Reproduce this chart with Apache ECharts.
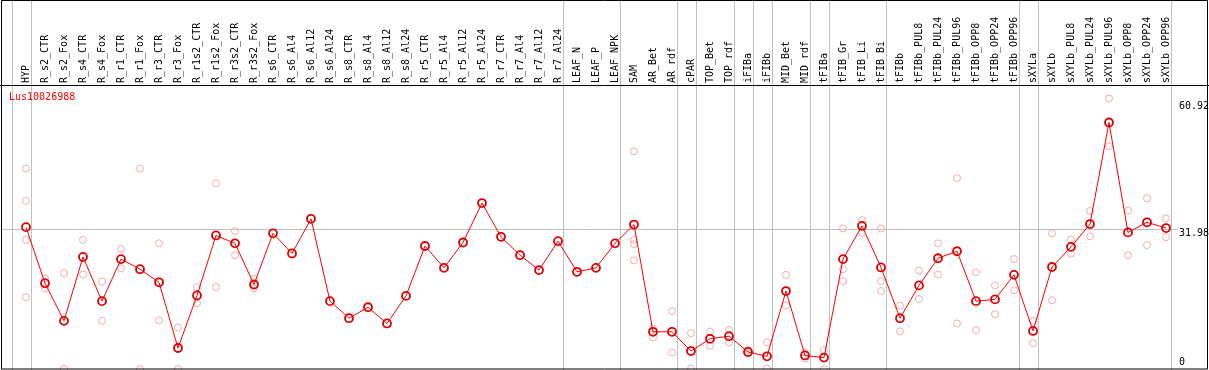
<!DOCTYPE html>
<html><head><meta charset="utf-8">
<script src="https://cdn.jsdelivr.net/npm/echarts@6/dist/echarts.min.js"></script>
<style>html,body{margin:0;padding:0;background:#fff}#c{width:1209px;height:370px}</style>
</head><body><div id="c"></div>
<script>
const title = 'Lus10026988';
const categories = ['HYP','R_s2_CTR','R_s2_Fox','R_s4_CTR','R_s4_Fox','R_r1_CTR','R_r1_Fox','R_r3_CTR','R_r3_Fox','R_r1s2_CTR','R_r1s2_Fox','R_r3s2_CTR','R_r3s2_Fox','R_s6_CTR','R_s6_Al4','R_s6_Al12','R_s6_Al24','R_s8_CTR','R_s8_Al4','R_s8_Al12','R_s8_Al24','R_r5_CTR','R_r5_Al4','R_r5_Al12','R_r5_Al24','R_r7_CTR','R_r7_Al4','R_r7_Al12','R_r7_Al24','LEAF_N','LEAF_P','LEAF_NPK','SAM','AR_Bet','AR_rdf','cPAR','TOP_Bet','TOP_rdf','iFIBa','iFIBb','MID_Bet','MID_rdf','tFIBa','tFIB_Gr','tFIB_Li','tFIB_Bi','tFIBb','tFIBb_PUL8','tFIBb_PUL24','tFIBb_PUL96','tFIBb_OPP8','tFIBb_OPP24','tFIBb_OPP96','sXYLa','sXYLb','sXYLb_PUL8','sXYLb_PUL24','sXYLb_PUL96','sXYLb_OPP8','sXYLb_OPP24','sXYLb_OPP96'];
const meanVals = [32.4,19.6,11.0,25.6,15.5,25.1,22.8,19.8,4.8,16.8,30.5,28.7,19.3,31.0,26.4,34.3,15.5,11.6,14.1,10.4,16.7,28.1,23.1,28.9,37.9,30.2,26.0,22.6,29.2,22.2,23.1,28.7,33.0,8.5,8.5,4.1,6.9,7.5,3.9,2.9,17.8,3.1,2.6,25.1,32.7,23.2,11.6,19.1,25.3,26.9,15.5,15.9,21.5,8.7,23.3,27.9,33.1,56.3,31.2,33.5,32.2];
const repVals = [
 [45.8,38.4,29.5,16.4],[20.7,18.4],[21.9,0],[29.5,21.6],[20.0,11.0],[27.4,23.0],[45.8,0],[28.7,11.1],[9.5,0],[18.7,15.0],
 [42.4,18.7],[31.5,26.0],[20.6,18.4],[],[],[],[],[],[],[],
 [],[],[],[],[],[],[],[],[],[],
 [],[],[49.7,29.5,28.5,24.8],[9.2,7.2],[13.2,3.8],[8.2,0.1],[8.5,5.3],[8.9,6.1],[4.3,3.6],[6.1,0.1],
 [21.5,14.5],[3.7,2.4],[4.3,0],[32.1,22.8,20.1],[34.0,31.1],[32.1,20.1,17.8],[14.5,8.6],[22.5,16.0],[28.7,21.6],[43.6,10.4],
 [22.1,8.9],[19.1,12.5],[25.1,18.0],[11.0,5.9],[31.0,15.7],[29.6,26.3],[36.1,30.3],[61.8,50.9],[36.2,26.0],[39.0,28.3],
 [34.4,30.1]
];
const yTicks = [0, 31.98, 60.92];
const yGridValues = [31.98];
const groupSeparatorsAfter = [-1,0,28,31,34,35,37,38,39,41,42,45,52,53,60];

const FONT = 'DejaVu Sans Mono';
const repData = [];
repVals.forEach((arr,i)=>arr.forEach(v=>repData.push([i,v])));

const chart = echarts.init(document.getElementById('c'), null, {renderer:'canvas'});
const option = {
  animation:false,
  backgroundColor:'#fff',
  grid:{left:16.5, right:33.5, top:85, bottom:1, containLabel:false},
  xAxis:{type:'category', data:categories, position:'top', boundaryGap:true,
    axisLine:{show:false}, axisTick:{show:false}, splitLine:{show:false},
    axisLabel:{rotate:90, interval:0, margin:2, fontFamily:FONT, fontSize:10, color:'#000'}},
  yAxis:{type:'value', min:0, max:64.87, position:'right', show:true,
    axisLine:{show:false}, axisTick:{show:false}, axisLabel:{show:false}, splitLine:{show:false}},
  graphic:[
    {type:'line', shape:{x1:0,y1:85.5,x2:1209,y2:85.5}, style:{stroke:'#000',lineWidth:1}, z:50},
    {type:'rect', shape:{x:1.5,y:0.5,width:1206,height:368.5}, style:{fill:null, stroke:'#000', lineWidth:1}, z:50},
    {type:'text', x:9, y:92, style:{text:title, fill:'#ff0000', font:'10px "'+FONT+'"'}, z:50}
  ],
  series:[
    {type:'custom', name:'separators', data:groupSeparatorsAfter.map(v=>[v]), silent:true, clip:false, z:1,
      renderItem:(params, api)=>{
        const band = api.size([1,0])[0];
        const x0 = api.coord([0,0])[0];
        const x = Math.round(x0 + (api.value(0)+0.25)*band) + 0.5;
        return {type:'line', shape:{x1:x,y1:0,x2:x,y2:370}, style:{stroke:'#c0c0c0', lineWidth:1}};
      }},
    {type:'custom', name:'grid', data:yGridValues.map(v=>[v]), silent:true, clip:false, z:1,
      renderItem:(params, api)=>{
        const y = Math.round(api.coord([0, api.value(0)])[1]) + 0.5;
        return {type:'line', shape:{x1:1,y1:y,x2:1178,y2:y}, style:{stroke:'#c0c0c0', lineWidth:1}};
      }},
    {type:'custom', name:'ylabels', data:yTicks.map(v=>[v]), silent:true, clip:false, z:5,
      renderItem:(params, api)=>{
        const v = api.value(0);
        const p = api.coord([categories.length-1, v]);
        const x = p[0] + 13;
        const isMin = v === yTicks[0];
        return {type:'text', x:x, y: isMin ? p[1]-2 : p[1]-1,
          style:{text:String(yTicks[params.dataIndex]), fill:'#000', font:'10px "'+FONT+'"',
            verticalAlign: isMin ? 'bottom':'top', align:'left'}};
      }},
    {type:'scatter', name:'replicates', data:repData, symbol:'circle', symbolSize:7, z:2,
      itemStyle:{color:'rgba(0,0,0,0)', borderColor:'#f09898', borderWidth:1}, clip:false},
    {type:'line', name:'mean', data:meanVals, symbol:'circle', symbolSize:8, showAllSymbol:true, z:3,
      lineStyle:{color:'#ff0000', width:1},
      itemStyle:{color:'rgba(0,0,0,0)', borderColor:'#dd0000', borderWidth:1.8}}
  ]
};
chart.setOption(option);
</script></body></html>
